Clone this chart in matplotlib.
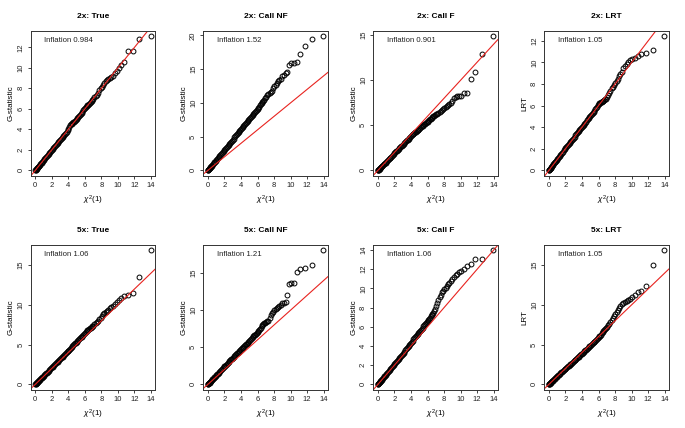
import matplotlib
matplotlib.use("Agg")
import matplotlib.pyplot as plt
from matplotlib.ticker import MultipleLocator

plt.rcParams['font.family'] = ['Liberation Sans', 'DejaVu Sans']
plt.rcParams['mathtext.fontset'] = 'custom'
plt.rcParams['mathtext.rm'] = 'Liberation Sans'
plt.rcParams['mathtext.it'] = 'Liberation Sans:italic'

# Theoretical chi-square(1) quantiles (x positions)
chi2_quantiles = [
    0.0, 0.03, 0.06, 0.1, 0.15, 0.2, 0.25, 0.3, 0.35, 0.4, 0.47, 0.55, 0.62, 0.7, 0.77, 0.85, 0.92,
    1.0, 1.1, 1.2, 1.3, 1.4, 1.5, 1.6, 1.7, 1.8, 1.9,
    2.0, 2.1, 2.2, 2.3, 2.4, 2.5, 2.6, 2.7, 2.8, 2.9,
    3.0, 3.1, 3.2, 3.3, 3.4, 3.5, 3.6, 3.7, 3.8, 3.9,
    4.0, 4.1, 4.2, 4.3, 4.4, 4.5, 4.6, 4.7, 4.8, 4.9,
    5.0, 5.1, 5.2, 5.3, 5.4, 5.5, 5.6, 5.7, 5.8, 5.9,
    6.0, 6.1, 6.2, 6.3, 6.4, 6.5, 6.6, 6.7, 6.8, 6.9,
    7.0, 7.15, 7.3, 7.45, 7.6, 7.75, 7.9, 8.05, 8.2, 8.35,
    8.5, 8.65, 8.8, 9.0, 9.2, 9.4, 9.6, 9.85, 10.1, 10.4, 10.75, 11.2, 11.8, 12.6, 13.95,
]

g_2x_true = [
    0.0, 0.03, 0.06, 0.1, 0.15, 0.2, 0.25, 0.3, 0.34, 0.39, 0.46, 0.54, 0.61, 0.69, 0.76, 0.84, 0.91,
    0.98, 1.08, 1.18, 1.28, 1.38, 1.48, 1.58, 1.68, 1.78, 1.88,
    1.98, 2.08, 2.18, 2.28, 2.38, 2.48, 2.58, 2.68, 2.78, 2.88,
    2.98, 3.08, 3.18, 3.28, 3.38, 3.48, 3.58, 3.68, 3.78, 3.9,
    4.0, 4.2, 4.45, 4.5, 4.55, 4.6, 4.68, 4.75, 4.82, 4.9,
    5.0, 5.1, 5.2, 5.3, 5.4, 5.5, 5.62, 5.73, 5.85, 5.95,
    6.05, 6.15, 6.25, 6.33, 6.42, 6.5, 6.6, 6.7, 6.8, 6.9,
    6.98, 7.15, 7.28, 7.38, 7.5, 7.8, 8.0, 8.1, 8.3, 8.55,
    8.7, 8.8, 8.95, 9.05, 9.1, 9.2, 9.45, 9.7, 9.95, 10.3, 10.6, 11.6, 11.65, 12.8, 13.1,
]
g_2x_callnf = [
    0.0, 0.05, 0.09, 0.15, 0.23, 0.3, 0.38, 0.46, 0.53, 0.61, 0.71, 0.84, 0.94, 1.07, 1.17, 1.29, 1.4,
    1.52, 1.67, 1.82, 1.98, 2.13, 2.28, 2.43, 2.58, 2.74, 2.89,
    3.04, 3.19, 3.35, 3.5, 3.65, 3.8, 3.96, 4.11, 4.26, 4.41,
    4.56, 4.71, 4.87, 5.02, 5.17, 5.32, 5.48, 5.63, 5.78, 5.93,
    6.1, 6.25, 6.4, 6.55, 6.7, 6.85, 7.0, 7.15, 7.3, 7.46,
    7.62, 7.77, 7.92, 8.07, 8.22, 8.37, 8.52, 8.68, 8.85, 9.0,
    9.15, 9.3, 9.45, 9.62, 9.8, 9.95, 10.1, 10.28, 10.45, 10.68,
    10.9, 11.15, 11.35, 11.45, 11.55, 11.7, 12.2, 12.45, 12.7, 12.95,
    13.2, 13.4, 13.6, 13.95, 14.2, 14.45, 14.55, 15.65, 15.85, 15.95, 16.05, 17.3, 18.4, 19.45, 19.9,
]
g_2x_callf = [
    0.0, 0.028, 0.055, 0.09, 0.14, 0.18, 0.23, 0.27, 0.32, 0.37, 0.43, 0.51, 0.57, 0.65, 0.71, 0.79, 0.86,
    0.94, 1.03, 1.13, 1.22, 1.32, 1.41, 1.51, 1.6, 1.7, 1.8,
    1.9, 1.99, 2.09, 2.18, 2.28, 2.37, 2.47, 2.56, 2.66, 2.75,
    2.85, 2.94, 3.03, 3.13, 3.22, 3.32, 3.41, 3.5, 3.6, 3.7,
    3.8, 3.89, 3.98, 4.07, 4.15, 4.22, 4.3, 4.38, 4.45, 4.52,
    4.6, 4.69, 4.78, 4.87, 4.95, 5.02, 5.1, 5.18, 5.25, 5.32,
    5.4, 5.5, 5.6, 5.68, 5.75, 5.82, 5.9, 5.98, 6.05, 6.12,
    6.2, 6.3, 6.4, 6.5, 6.6, 6.7, 6.8, 6.9, 7.02, 7.12,
    7.22, 7.35, 7.5, 7.7, 8.05, 8.15, 8.2, 8.25, 8.3, 8.6, 8.6, 10.15, 10.9, 12.9, 14.9,
]
lrt_2x = [
    0.0, 0.03, 0.06, 0.1, 0.16, 0.21, 0.26, 0.31, 0.36, 0.42, 0.49, 0.57, 0.65, 0.73, 0.8, 0.88, 0.96,
    1.04, 1.14, 1.24, 1.34, 1.44, 1.54, 1.64, 1.74, 1.84, 1.94,
    2.04, 2.14, 2.24, 2.34, 2.44, 2.54, 2.64, 2.74, 2.84, 2.94,
    3.04, 3.13, 3.23, 3.33, 3.42, 3.52, 3.62, 3.72, 3.82, 3.92,
    4.02, 4.12, 4.22, 4.32, 4.42, 4.52, 4.62, 4.72, 4.82, 4.92,
    5.02, 5.12, 5.22, 5.32, 5.42, 5.53, 5.65, 5.78, 5.9, 6.02,
    6.15, 6.22, 6.27, 6.3, 6.35, 6.4, 6.45, 6.5, 6.58, 6.65,
    6.82, 7.0, 7.2, 7.4, 7.6, 7.75, 7.95, 8.1, 8.3, 8.45,
    8.75, 8.95, 9.15, 9.45, 9.7, 9.85, 10.0, 10.2, 10.35, 10.45, 10.6, 10.75, 10.85, 11.2, 12.45,
]
g_5x_true = [
    0.0, 0.03, 0.06, 0.11, 0.16, 0.21, 0.27, 0.32, 0.37, 0.42, 0.5, 0.58, 0.66, 0.74, 0.82, 0.9, 0.98,
    1.06, 1.17, 1.27, 1.38, 1.48, 1.59, 1.7, 1.8, 1.91, 2.01,
    2.12, 2.22, 2.33, 2.44, 2.54, 2.65, 2.76, 2.86, 2.97, 3.07,
    3.18, 3.28, 3.39, 3.5, 3.6, 3.71, 3.82, 3.92, 4.03, 4.14,
    4.25, 4.36, 4.47, 4.58, 4.7, 4.81, 4.92, 5.03, 5.15, 5.26,
    5.37, 5.48, 5.6, 5.71, 5.82, 5.9, 6.0, 6.1, 6.2, 6.35,
    6.5, 6.62, 6.75, 6.82, 6.9, 6.98, 7.05, 7.12, 7.2, 7.3,
    7.4, 7.55, 7.7, 7.85, 8.0, 8.2, 8.4, 8.6, 8.8, 8.95,
    9.1, 9.25, 9.4, 9.55, 9.7, 9.85, 10.1, 10.4, 10.65, 10.9, 11.1, 11.3, 11.55, 13.45, 16.9,
]
g_5x_callnf = [
    0.0, 0.04, 0.07, 0.12, 0.18, 0.24, 0.3, 0.36, 0.42, 0.48, 0.57, 0.67, 0.75, 0.85, 0.93, 1.03, 1.11,
    1.21, 1.33, 1.45, 1.57, 1.69, 1.81, 1.93, 2.05, 2.17, 2.29,
    2.41, 2.53, 2.65, 2.77, 2.88, 3.0, 3.12, 3.24, 3.35, 3.47,
    3.58, 3.7, 3.82, 3.94, 4.05, 4.16, 4.28, 4.4, 4.5, 4.61,
    4.72, 4.84, 4.96, 5.08, 5.2, 5.3, 5.4, 5.5, 5.62, 5.74,
    5.85, 5.98, 6.1, 6.22, 6.35, 6.48, 6.6, 6.68, 6.75, 6.95,
    7.1, 7.2, 7.3, 7.45, 7.6, 7.8, 8.0, 8.12, 8.25, 8.32,
    8.4, 8.5, 8.6, 8.9, 9.3, 9.55, 9.8, 10.0, 10.2, 10.35,
    10.45, 10.6, 10.75, 10.9, 11.0, 11.15, 12.1, 13.5, 13.6, 13.7, 15.1, 15.5, 15.7, 16.05, 18.1,
]
g_5x_callf = [
    0.0, 0.03, 0.06, 0.11, 0.16, 0.21, 0.27, 0.32, 0.37, 0.42, 0.5, 0.58, 0.66, 0.74, 0.82, 0.9, 0.98,
    1.06, 1.16, 1.27, 1.37, 1.48, 1.58, 1.69, 1.8, 1.9, 2.0,
    2.11, 2.22, 2.32, 2.43, 2.54, 2.65, 2.76, 2.87, 2.98, 3.09,
    3.2, 3.31, 3.42, 3.53, 3.65, 3.76, 3.88, 3.99, 4.1, 4.22,
    4.33, 4.45, 4.56, 4.68, 4.8, 4.92, 5.03, 5.15, 5.27, 5.38,
    5.5, 5.6, 5.7, 5.81, 5.92, 6.03, 6.15, 6.27, 6.4, 6.5,
    6.6, 6.72, 6.85, 6.95, 7.08, 7.18, 7.3, 7.45, 7.6, 7.9,
    8.2, 8.5, 8.8, 9.1, 9.35, 9.6, 9.75, 9.9, 10.05, 10.25,
    10.45, 10.6, 10.8, 11.0, 11.2, 11.35, 11.5, 11.7, 11.85, 12.0, 12.3, 12.55, 13.1, 13.1, 14.0,
]
lrt_5x = [
    0.0, 0.03, 0.06, 0.1, 0.15, 0.21, 0.26, 0.31, 0.36, 0.42, 0.48, 0.57, 0.64, 0.73, 0.79, 0.88, 0.95,
    1.03, 1.13, 1.22, 1.32, 1.41, 1.5, 1.6, 1.7, 1.79, 1.88,
    1.97, 2.06, 2.15, 2.25, 2.34, 2.43, 2.52, 2.62, 2.71, 2.8,
    2.9, 3.0, 3.09, 3.18, 3.28, 3.38, 3.48, 3.58, 3.67, 3.77,
    3.87, 3.97, 4.07, 4.17, 4.27, 4.37, 4.47, 4.57, 4.67, 4.77,
    4.87, 4.97, 5.07, 5.17, 5.28, 5.38, 5.48, 5.58, 5.68, 5.79,
    5.9, 6.02, 6.14, 6.27, 6.4, 6.53, 6.66, 6.8, 6.94, 7.08,
    7.25, 7.45, 7.65, 7.85, 8.1, 8.35, 8.6, 8.85, 9.1, 9.35,
    9.55, 9.8, 10.05, 10.2, 10.35, 10.5, 10.6, 10.7, 11.0, 11.25, 11.6, 11.75, 12.4, 15.0, 16.9,
]

titles = ["2x: True", "2x: Call NF", "2x: Call F", "2x: LRT",
          "5x: True", "5x: Call NF", "5x: Call F", "5x: LRT"]
ylabels = ["G-statistic", "G-statistic", "G-statistic", "LRT",
           "G-statistic", "G-statistic", "G-statistic", "LRT"]
inflation = ["0.984", "1.52", "0.901", "1.05", "1.06", "1.21", "1.06", "1.05"]
series = [g_2x_true, g_2x_callnf, g_2x_callf, lrt_2x,
          g_5x_true, g_5x_callnf, g_5x_callf, lrt_5x]
x_ticks = [0, 2, 4, 6, 8, 10, 12, 14]

# layout / style
ystep = [2, 5, 5, 2, 5, 5, 2, 5]
col_left = [0.0448, 0.2968, 0.545, 0.7946]
row_bottom = [0.5895, 0.0895]
ax_w, ax_h = 0.1818, 0.3388

fig = plt.figure(figsize=(6.85, 4.28), dpi=100)

for i, ys in enumerate(series):
    r, c = divmod(i, 4)
    ax = fig.add_axes([col_left[c], row_bottom[r], ax_w, ax_h])
    xs = chi2_quantiles
    ax.plot(xs, ys, linestyle='none', marker='o', markersize=3.5,
            markerfacecolor='none', markeredgecolor='black', markeredgewidth=0.7)
    ax.axline((0, 0), slope=1, color='#e8231f', linewidth=0.8)
    x0, x1 = min(xs), max(xs)
    y0, y1 = min(ys), max(ys)
    px, py = 0.04 * (x1 - x0), 0.04 * (y1 - y0)
    ax.set_xlim(x0 - px, x1 + px)
    ax.set_ylim(y0 - py, y1 + py)
    ax.set_xticks(x_ticks)
    ax.yaxis.set_major_locator(MultipleLocator(ystep[i]))
    ax.tick_params(direction='out', length=2.3, width=0.6, labelsize=5.5,
                   colors='#222222', pad=2.2)
    plt.setp(ax.get_yticklabels(), rotation=90, va='center')
    for sp in ax.spines.values():
        sp.set_linewidth(0.7)
        sp.set_color('#333333')
    ax.set_title(titles[i], fontsize=6.0, fontweight='bold', pad=9)
    ax.set_xlabel(r'$\chi^2$(1)', fontsize=5.8)
    ax.xaxis.set_label_coords(0.5, -0.125)
    ax.set_ylabel(ylabels[i], fontsize=5.8)
    ax.yaxis.set_label_coords(-0.125, 0.5)
    ax.text(0.11, 0.93, "Inflation " + inflation[i], transform=ax.transAxes,
            fontsize=5.6, ha='left', va='center', color='#222222')

fig.savefig("out.png", dpi=100)
